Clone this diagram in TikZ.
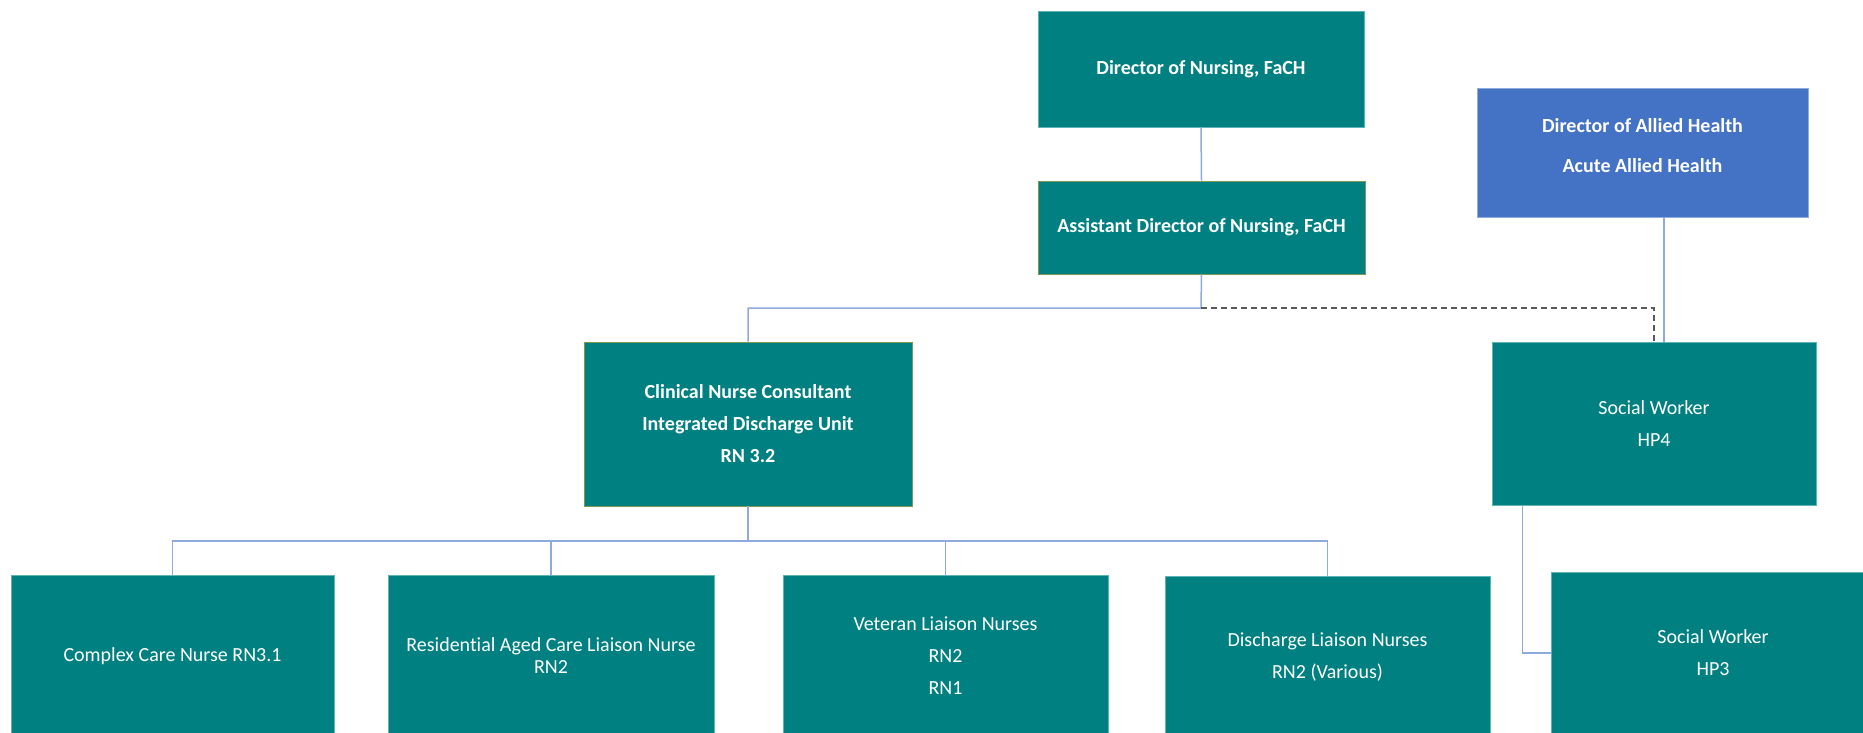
\documentclass[tikz,border=0pt]{standalone}
\usepackage{fontspec}
\setmainfont[Ligatures={NoCommon}]{Carlito}
\usetikzlibrary{calc}
\definecolor{tealf}{HTML}{008080}
\definecolor{tealb}{HTML}{5FB5B5}
\definecolor{oliveb}{HTML}{7E9A4E}
\definecolor{bluef}{HTML}{4472C4}
\definecolor{blueb}{HTML}{8FAADC}
\definecolor{connc}{HTML}{8FAADC}
\definecolor{dashc}{HTML}{595959}
\tikzset{
  box/.style={rectangle, fill=tealf, draw=tealb, line width=0.8pt, text=white, align=center, inner sep=0pt, font=\fontsize{20}{32}\selectfont},
  bbox/.style={box, font=\fontsize{20}{32}\selectfont\bfseries},
  obox/.style={bbox, draw=oliveb},
  dbox/.style={box, fill=bluef, draw=blueb},
  conn/.style={draw=connc, line width=1.5pt},
  dline/.style={draw=dashc, line width=1.5pt, dash pattern=on 6pt off 4pt},
}
\begin{document}
\begin{tikzpicture}[x=1pt,y=-1pt]
\path[use as bounding box, clip] (0,0) rectangle (1863,732);
\fill[white] (0,0) rectangle (1863,732);
% top
\node[bbox, minimum width=326pt, minimum height=116pt] (don) at (1201,69) {Director of Nursing, FaCH};
\node[obox, minimum width=327pt, minimum height=93pt] (adon) at (1201.5,227.5) {Assistant Director of Nursing, FaCH};
\node[dbox, minimum width=331pt, minimum height=129pt] (dah) at (1642.5,152.5) {};
\node[text=white, align=center, inner sep=0pt, font=\fontsize{20}{32}\selectfont\bfseries] (daht) at (1642.5,146) {Director of Allied Health\\[8pt]Acute Allied Health};
% middle
\node[obox, minimum width=328pt, minimum height=164pt] (cnc) at (748,424) {Clinical Nurse Consultant\\Integrated Discharge Unit\\RN 3.2};
\node[box, minimum width=324pt, minimum height=163pt] (hp4) at (1654,423.5) {Social Worker\\HP4};
% bottom
\node[box, minimum width=323pt, minimum height=162pt] (ccn) at (172.5,656) {Complex Care Nurse RN3.1};
\node[box, minimum width=326pt, minimum height=162pt] (rac) at (551,656) {Residential Aged Care Liaison Nurse\\[-10pt]RN2};
\node[box, minimum width=325pt, minimum height=162pt] (vln) at (945.5,656) {Veteran Liaison Nurses\\RN2\\RN1};
\node[box, minimum width=325pt, minimum height=162pt] (dln) at (1327.5,657) {Discharge Liaison Nurses\\RN2 (Various)};
\node[box, minimum width=324pt, minimum height=162pt] (hp3) at (1713,653) {Social Worker\\HP3};
% connectors
\draw[conn] (don.south) -- (adon.north);
\coordinate (j1) at (1201,308);
\draw[conn] (adon.south) -- (j1) -| (cnc.north);
\draw[dline] (j1) -| (hp4.north);
\coordinate (d1) at ($(hp4.north)+(10,0)$);
\draw[conn] (d1) -- (d1 |- dah.south);
\coordinate (j2) at (748,541);
\draw[conn] (cnc.south) -- (j2);
\draw[conn] (ccn.north) |- (j2) -| (dln.north);
\draw[conn] (rac.north) -- (rac.north |- j2);
\draw[conn] (vln.north) -- (vln.north |- j2);
\coordinate (h1) at ($(hp4.south west)+(31,0)$);
\draw[conn] (h1) |- (hp3.west);
\end{tikzpicture}
\end{document}
